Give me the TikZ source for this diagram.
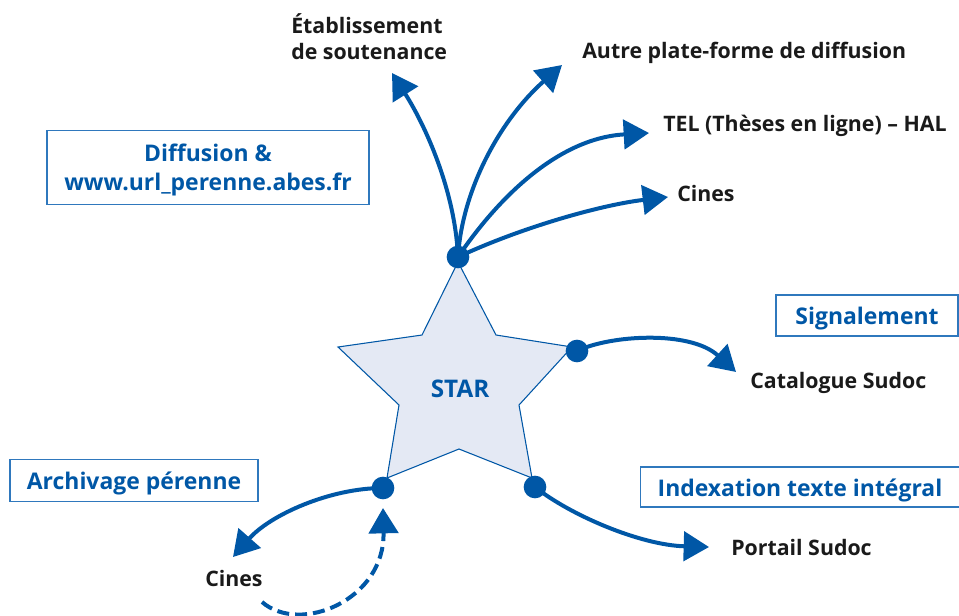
\documentclass[tikz,border=0pt]{standalone}
\usepackage{fontspec}
\setmainfont{Open Sans}
\usetikzlibrary{arrows.meta}
\definecolor{sblue}{HTML}{0057A6}
\definecolor{sfill}{HTML}{E4E9F4}
\definecolor{boxline}{HTML}{2F78BD}
\definecolor{dtext}{HTML}{1A1A1A}
\tikzset{
  lbl/.style={font=\bfseries\fontsize{16}{19.5}\selectfont, text=dtext, inner sep=0pt},
  boxlbl/.style={draw=boxline, line width=0.9pt, font=\bfseries\fontsize{17.2}{21.75}\selectfont, text=sblue, align=center, inner sep=0pt},
  onebox/.style={boxlbl, text height=17.7pt, text depth=4.2pt},
  jdot/.style={circle, fill=sblue, minimum size=17pt, inner sep=0pt},
  flow/.style={draw=sblue, line width=3pt, -{Triangle[length=19pt,width=22pt]}},
  dflow/.style={flow, dash pattern=on 9pt off 4.5pt}
}
\begin{document}
\begin{tikzpicture}[x=0.75pt,y=-0.75pt]
\useasboundingbox (0,0) rectangle (959,615);
% star
\draw[sblue, line width=0.8pt, fill=sfill, line join=miter]
  (458,262) -- (496,335) -- (572,347) -- (519,405) -- (532,478) -- (459,449)
  -- (387,478) -- (399,405) -- (338,347) -- (422,335) -- cycle;
\node[font=\bfseries\fontsize{18.2}{21}\selectfont, text=sblue] (star) at (460,389) {STAR};
% junction dots
\node[jdot] (dtop) at (458,257) {};
\node[jdot] (dright) at (577,351) {};
\node[jdot] (dlr) at (535,487) {};
\node[jdot] (dll) at (383,488) {};
% boxes
\node[boxlbl, text height=38pt, minimum width=241.5pt, minimum height=56pt] (bdiff) at (208,167.5) {Diffusion \&\\www.url\_perenne.abes.fr};
\node[onebox, minimum width=136.5pt, minimum height=30.75pt] (bsig) at (867,315.5) {Signalement};
\node[onebox, minimum width=239pt, minimum height=30pt] (bidx) at (800,487) {Indexation texte intégral};
\node[onebox, minimum width=186pt, minimum height=32pt] (barch) at (134,480.5) {Archivage pérenne};
% destination labels
\node[lbl, anchor=west, align=left] (tetab) at (291,37) {Établissement\\de soutenance};
\node[lbl, anchor=west] (tautre) at (582,53) {Autre plate-forme de diffusion};
\node[lbl, anchor=west] (ttel) at (663,126) {TEL (Thèses en ligne) – HAL};
\node[lbl, anchor=west] (tcines) at (677,193) {Cines};
\node[lbl, anchor=west] (tcat) at (750,383) {Catalogue Sudoc};
\node[lbl, anchor=west] (tport) at (731,547) {Portail Sudoc};
\node[lbl, anchor=west] (tcines2) at (205,578) {Cines};
% arrow end points
\coordinate (eetab) at (392,73);
\coordinate (eautre) at (562,65);
\coordinate (etel) at (649,133);
\coordinate (ecines) at (668,197);
\coordinate (ecat) at (736,372);
\coordinate (eport) at (709,547);
\coordinate (ecines2) at (233,557);
\coordinate (sdash) at (262,602);
\coordinate (edash) at (383,508);
% connectors
\draw[flow] (dtop.center) .. controls (455,190) and (425,125) .. (eetab);
\draw[flow] (dtop.center) .. controls (462,190) and (500,120) .. (eautre);
\draw[flow] (dtop.center) .. controls (500,195) and (560,138) .. (etel);
\draw[flow] (dtop.center) .. controls (520,228) and (600,205) .. (ecines);
\draw[flow] (dright.center) .. controls (610,335) and (690,330) .. (ecat);
\draw[flow] (dlr.center) .. controls (570,515) and (640,545) .. (eport);
\draw[flow] (dll.center) .. controls (330,488) and (270,515) .. (ecines2);
\draw[dflow] (sdash) .. controls (300,635) and (385,600) .. (edash);
\end{tikzpicture}
\end{document}
